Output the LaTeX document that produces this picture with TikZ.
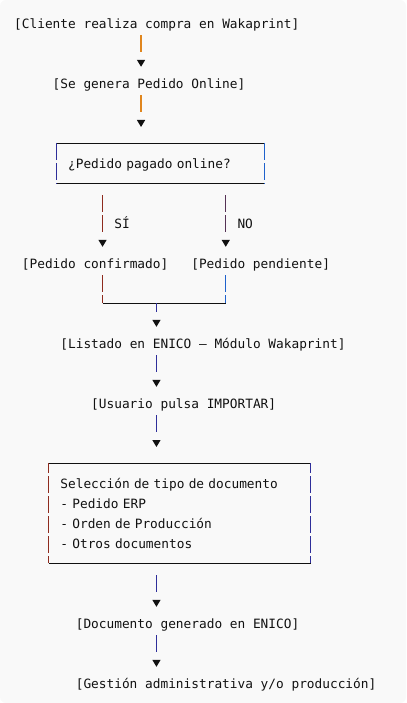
\documentclass[tikz,border=0pt]{standalone}
\usepackage{fontspec}
\newfontfamily\mono{DejaVu Sans Mono}
\usetikzlibrary{arrows.meta}
\definecolor{fondo}{HTML}{F9F9F9}
\definecolor{tinta}{HTML}{111111}
\definecolor{naranja}{HTML}{E0861E}
\definecolor{marino}{HTML}{2E2E9A}
\definecolor{azul}{HTML}{1F62CC}
\definecolor{granate}{HTML}{8E2B1E}
\definecolor{violeta}{HTML}{553255}

\begin{document}
\begin{tikzpicture}[x=7.7pt, y=-20pt,
	every node/.style={font=\mono\fontsize{12.8}{20}\selectfont, text=tinta, inner sep=0pt},
	etapa/.style={anchor=base west, text height=15.3pt, text depth=4.7pt},
	marco/.style={anchor=north west, align=left, inner xsep=11.55pt},
	borde/.style={draw=tinta, line width=0.8pt},
	lado/.style={line width=1.2pt, dash pattern=on 17pt off 3pt},
	flecha/.style={line width=1.3pt, dash pattern=on 17pt off 20pt, shorten <=2pt, shorten >=6pt,
		-{Triangle[length=7pt, width=8pt, color=tinta]}},
	doble/.style={flecha, dash pattern=on 17pt off 3pt on 17pt off 20pt}]
	\useasboundingbox (-2.318,-0.15) rectangle (50.41,35);
	\fill[fondo, rounded corners=6pt] (-2.318,-0.15) rectangle (50.41,35);

	% pasos
	\node[etapa] (cliente) at (-0.5,1.265) {[Cliente realiza compra en Wakaprint]};
	\node[etapa] (genera) at (4.5,4.265) {[Se genera Pedido Online]};
	\node[marco, minimum width=207.9pt, minimum height=40pt, text width=184.8pt, text height=15.3pt, text depth=4.7pt] (pagado) at (5,7) {¿Pedido pagado online?};
	\node[etapa] (si) at (12.5,11.265) {SÍ};
	\node[etapa] (no) at (28.5,11.265) {NO};
	\node[etapa] (confirmado) at (0.5,13.265) {[Pedido confirmado]};
	\node[etapa] (pendiente) at (22.5,13.265) {[Pedido pendiente]};
	\node[etapa] (listado) at (5.5,17.265) {[Listado en ENICO – Módulo Wakaprint]};
	\node[etapa] (importar) at (9.5,20.265) {[Usuario pulsa IMPORTAR]};
	\node[marco, minimum width=261.8pt, minimum height=100pt, text width=238.7pt] (seleccion) at (4,23) {Selección de tipo de documento\\- Pedido ERP\\- Orden de Producción\\- Otros documentos};
	\node[etapa] (documento) at (7.5,31.265) {[Documento generado en ENICO]};
	\node[etapa] (gestion) at (7.5,34.265) {[Gestión administrativa y/o producción]};
	\coordinate (union) at (18,15);

	% cajas
	\draw[borde] (pagado.north west) -- (pagado.north east) (pagado.south west) -- (pagado.south east);
	\draw[lado, marino] (pagado.north west) -- (pagado.south west);
	\draw[lado, azul] (pagado.north east) -- (pagado.south east);
	\draw[borde] (seleccion.north west) -- (seleccion.north east) (seleccion.south west) -- (seleccion.south east);
	\draw[lado, granate, dash phase=7pt] (seleccion.north west) -- (seleccion.south west);
	\draw[lado, marino, dash phase=7pt] (seleccion.north east) -- (seleccion.south east);

	% flechas
	\draw[flecha, naranja] (cliente.south -| 16,0) -- (genera.north -| 16,0);
	\draw[flecha, naranja, shorten >=16pt] (genera.south -| 16,0) -- (pagado.north -| 16,0);
	\draw[doble, granate, shorten <=12pt] (pagado.south -| 11,0) -- (confirmado.north -| 11,0);
	\draw[doble, violeta, shorten <=12pt] (pagado.south -| 27,0) -- (pendiente.north -| 27,0);
	\draw[lado, granate, dash pattern=on 17pt off 3pt on 20pt, shorten <=2pt] (confirmado.south -| 11,0) -- (union -| 11,0);
	\draw[lado, azul, dash pattern=on 17pt off 3pt on 20pt, shorten <=2pt] (pendiente.south -| 27,0) -- (union -| 27,0);
	\draw[borde] (union -| 11,0) -- (union -| 27,0);
	\draw[flecha, marino, dash pattern=on 9pt off 20pt, shorten <=0pt] (union) -- (listado.north -| union);
	\draw[flecha, marino] (listado.south -| union) -- (importar.north -| union);
	\draw[flecha, marino, shorten >=16pt] (importar.south -| union) -- (seleccion.north -| union);
	\draw[flecha, marino, shorten <=12pt] (seleccion.south -| union) -- (documento.north -| union);
	\draw[flecha, marino] (documento.south -| union) -- (gestion.north -| union);
\end{tikzpicture}
\end{document}
